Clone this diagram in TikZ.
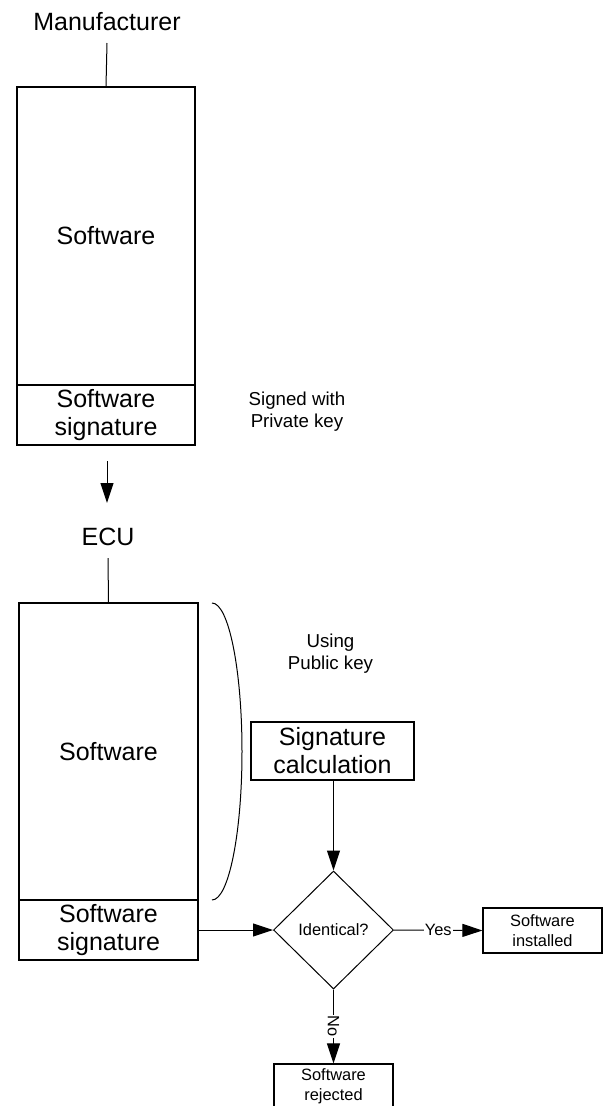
\documentclass[tikz,border=0pt]{standalone}
\usepackage{fontspec}
\setmainfont{Liberation Sans}
\usetikzlibrary{arrows.meta,shapes.geometric}
\begin{document}
\begin{tikzpicture}[x=1pt,y=-1pt,
  big/.style={font=\fontsize{25}{28}\selectfont},
  mid/.style={font=\fontsize{18.7}{22}\selectfont},
  small/.style={font=\fontsize{16.4}{19.5}\selectfont},
  blk/.style={draw, line width=1.2pt, inner sep=0pt, align=center},
  ln/.style={line width=1pt},
  arr/.style={line width=1pt, -{Triangle[length=20pt,width=13pt]}}
]
\useasboundingbox (0,0) rectangle (604,1106);
\clip (0,0) rectangle (604,1106);

% Manufacturer side
\node[big, anchor=base] (mfr) at (107,30) {Manufacturer};
\coordinate (mfrl) at (107,43);
\node[blk, big, minimum width=178pt, minimum height=298pt] (sw1) at (106,236) {Software};
\node[blk, big, minimum width=178pt, minimum height=60pt] (sig1) at (106,415) {Software\\signature};
\draw[ln] (mfrl) -- (sw1.north);
\node[mid, align=center] (signed) at (297,412) {Signed with\\Private key};

% transfer arrow
\coordinate (a1s) at (107,461);
\coordinate (a1e) at (107,503);
\draw[arr] (a1s) -- (a1e);

% ECU side
\node[big, anchor=base] (ecu) at (108,545) {ECU};
\coordinate (ecul) at (108,558);
\node[blk, big, minimum width=179pt, minimum height=297pt] (sw2) at (108.5,751.5) {Software};
\node[blk, big, minimum width=179pt, minimum height=60pt] (sig2) at (108.5,930) {Software\\signature};
\draw[ln] (ecul) -- (sw2.north);

% bracket
\coordinate (brt) at (212,603);
\coordinate (brm) at (242,751.5);
\coordinate (brb) at (212,900);
\draw[ln] (brt) .. controls (228.6,603) and (242,669.5) .. (brm)
               .. controls (242,833.5) and (228.6,900) .. (brb);

\node[mid, align=center] (using) at (330.5,654) {Using\\Public key};
\node[blk, big, minimum width=163pt, minimum height=58pt] (calc) at (332.5,751) {Signature\\calculation};

\node[diamond, draw, line width=1pt, aspect=1, inner sep=0pt, minimum width=120pt, minimum height=118pt, small] (dia) at (333.5,930) {Identical?};

\node[blk, small, minimum width=119pt, minimum height=45pt] (inst) at (542.5,930.5) {Software\\installed};
\node[blk, small, minimum width=119pt, minimum height=45pt] (rej) at (333.5,1086.5) {Software\\rejected};

\draw[arr] (calc.south -| dia.north) -- (dia.north);
\draw[arr] (sig2.east) -- (dia.west);
\draw[arr] (dia.east) -- node[small, fill=white, inner sep=1pt] {Yes} (inst.west);
\draw[arr] (dia.south) -- node[small, fill=white, inner sep=1pt, rotate=-90] {No} (rej.north);
\end{tikzpicture}
\end{document}
